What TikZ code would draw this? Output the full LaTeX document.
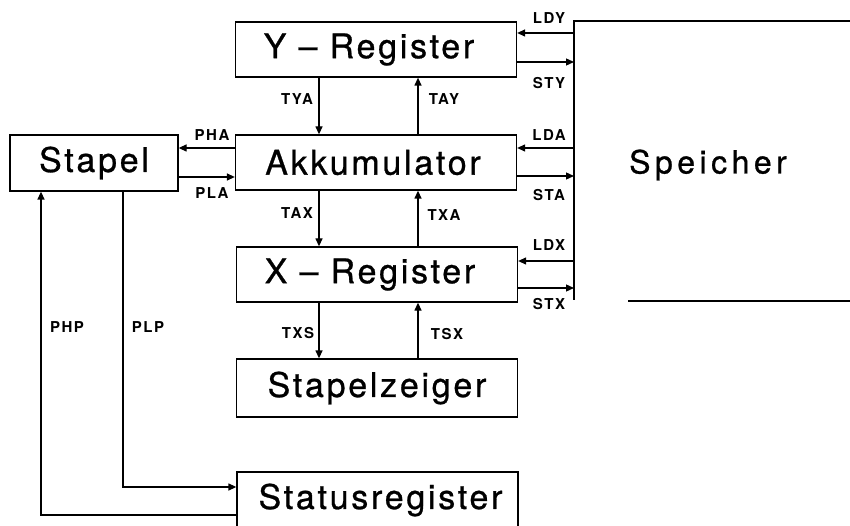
\documentclass[tikz,border=0pt]{standalone}
\usepackage{fontspec}
\newfontfamily\regfont[LetterSpace=8,FakeBold=0.8]{TeX Gyre Heros}
\newfontfamily\memfont[LetterSpace=14,FakeBold=0.8]{TeX Gyre Heros}
\newfontfamily\sigfont[LetterSpace=10]{TeX Gyre Heros}
\usetikzlibrary{arrows.meta}

\begin{document}
\begin{tikzpicture}[
    x=1pt, y=-1pt,
    line width=1.3pt,
    reg/.style={draw, inner sep=0pt, minimum width=281pt, minimum height=55pt,
        font=\regfont\fontsize{34}{40}\selectfont},
    sig/.style={inner sep=1pt, font=\sigfont\bfseries\fontsize{15}{17}\selectfont},
    arr/.style={-{Triangle[length=8pt,width=7pt]}},
]

% Frame
\useasboundingbox (0,0) rectangle (850,526);
\clip (0,0) rectangle (850,526);

% X positions of the transfer lines
\coordinate (tl) at (319,0);
\coordinate (tr) at (418,0);

% Registers
\node[reg] (yreg) at (376,49.5) {Y \textendash{} Register\hspace*{14pt}};
\node[reg] (akku) at (376,162.5) {Akkumulator\hspace*{6pt}};
\node[reg] (xreg) at (377,274.5) {X \textendash{} Register\hspace*{14pt}};
\node[reg, minimum height=58pt] (sp) at (377,388) {Stapelzeiger};
\node[reg, minimum height=56pt] (status) at (377.5,500) {\hspace*{6pt}Statusregister};
\node[reg, minimum width=168pt, minimum height=56pt] (stapel) at (94,163) {Stapel};

% Speicher
\coordinate (bustop) at (574,21);
\coordinate (busbot) at (574,300);
\coordinate (memtop) at (850,21);
\coordinate (membl) at (628,301);
\coordinate (membr) at (850,301);
\draw (memtop) -- (bustop) -- (busbot);
\draw (membl) -- (membr);
\node[font=\memfont\fontsize{32}{36}\selectfont] (speicher) at (708,165) {Speicher};

% Bus taps
\coordinate (ldy) at (574,33);
\coordinate (sty) at (574,62);
\coordinate (lda) at (574,148);
\coordinate (sta) at (574,176);
\coordinate (ldx) at (574,261);
\coordinate (stx) at (574,288);

\draw[arr] (ldy) -- (ldy -| yreg.east);
\draw[arr] (yreg.east |- sty) -- (sty);
\draw[arr] (lda) -- (lda -| akku.east);
\draw[arr] (akku.east |- sta) -- (sta);
\draw[arr] (ldx) -- (ldx -| xreg.east);
\draw[arr] (xreg.east |- stx) -- (stx);

\node[sig] (ldyl) at (549,18) {LDY};
\node[sig] (styl) at (549,83) {STY};
\node[sig] (ldal) at (549,135) {LDA};
\node[sig] (stal) at (549,195) {STA};
\node[sig] (ldxl) at (549,245) {LDX};
\node[sig] (stxl) at (549,304) {STX};

% Transfers between registers
\draw[arr] (yreg.south -| tl) -- (akku.north -| tl);
\draw[arr] (akku.north -| tr) -- (yreg.south -| tr);
\draw[arr] (akku.south -| tl) -- (xreg.north -| tl);
\draw[arr] (xreg.north -| tr) -- (akku.south -| tr);
\draw[arr] (xreg.south -| tl) -- (sp.north -| tl);
\draw[arr] (sp.north -| tr) -- (xreg.south -| tr);

\node[sig] (tyal) at (297,99) {TYA};
\node[sig] (tayl) at (444,99) {TAY};
\node[sig] (taxl) at (297,213) {TAX};
\node[sig] (txal) at (444,215) {TXA};
\node[sig] (txsl) at (298,333) {TXS};
\node[sig] (tsxl) at (447,334) {TSX};

% Stapel
\coordinate (pha) at (0,148);
\coordinate (pla) at (0,177);
\draw[arr] (akku.west |- pha) -- (pha -| stapel.east);
\draw[arr] (stapel.east |- pla) -- (pla -| akku.west);
\node[sig] (phal) at (212,135) {PHA};
\node[sig] (plal) at (212,193) {PLA};

\coordinate (php) at (41,515);
\coordinate (plp) at (123,487);
\draw[arr] (status.west |- php) -- (php) -- (php |- stapel.south);
\draw[arr] (plp |- stapel.south) -- (plp) -- (plp -| status.west);
\node[sig] (phpl) at (67,327) {PHP};
\node[sig] (plpl) at (148,327) {PLP};

\end{tikzpicture}
\end{document}
